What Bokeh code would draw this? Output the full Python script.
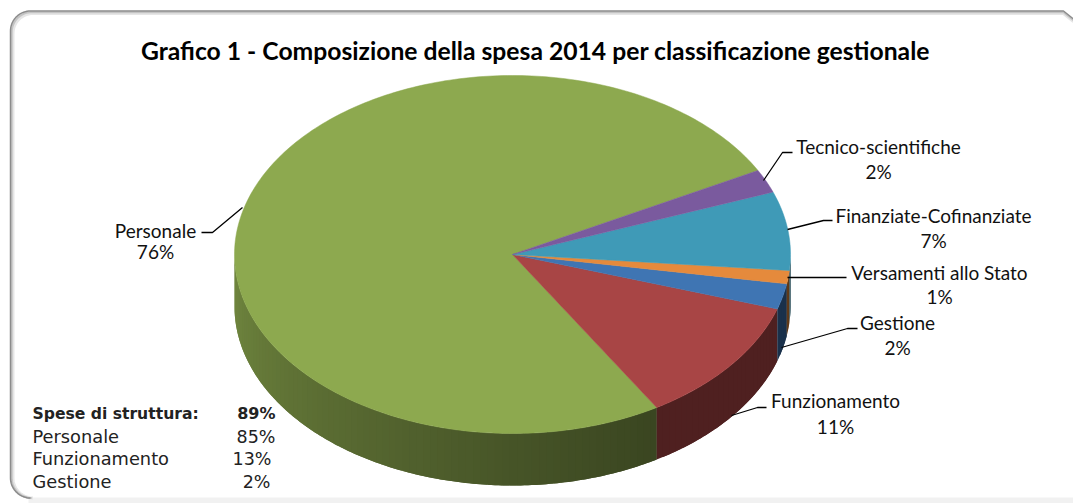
import math
from bokeh.plotting import figure
from bokeh.models import Range1d
from bokeh.core.properties import value
from bokeh.embed import file_html
from bokeh.resources import INLINE

TITLE = "Grafico 1 - Composizione della spesa 2014 per classificazione gestionale"
categories = ["Personale", "Funzionamento", "Gestione", "Versamenti allo Stato",
              "Finanziate-Cofinanziate", "Tecnico-scientifiche"]
shares = [75.9, 11.4, 2.3, 1.2, 7.1, 2.1]
share_labels = ["76%", "11%", "2%", "1%", "7%", "2%"]
colors = ["#8DA94F", "#A84545", "#3F75B3", "#E58A3C", "#3F9AB7", "#7A5A9E"]

side_names = ["Spese di struttura:", "Personale", "Funzionamento", "Gestione"]
side_values = ["89%", "85%", "13%", "2%"]

W, H = 1073, 503
CX, CY, RX, RY, DEPTH = 512, 254, 278, 179, 52
START = 28.0

p = figure(width=W, height=H, x_range=Range1d(0, W), y_range=Range1d(H, 0),
           output_backend="svg", toolbar_location=None, min_border=0,
           background_fill_color="white", border_fill_color="white")
p.axis.visible = False
p.grid.visible = False
p.outline_line_color = None


def pt(t, dy=0):
    r = math.radians(t)
    return CX + RX * math.cos(r), CY - RY * math.sin(r) + dy


def mix(hex_color, f):
    c = [int(hex_color[i:i + 2], 16) for i in (1, 3, 5)]
    return "#%02x%02x%02x" % tuple(int(round(v * f)) for v in c)


def shade(t, name):
    if name == "Personale":
        if t < 270:
            return 0.80 - (t - 180) / 90 * 0.30
        return 0.50 - (t - 270) / 31 * 0.09
    return 0.47 if name == "Funzionamento" else 0.42


# frame: soft bottom band, then the grey outline with its inner shadow
p.quad(left=[28], right=[W], top=[497], bottom=[H], fill_color="#f1f1f1", line_color=None)


def frame_path(offset=0.0):
    xs, ys = [], []
    L, T, Rr, B, R0 = 10 + offset, 10.5 + offset, 1073, 497.5, 20
    for a in range(0, 91, 5):
        r = math.radians(a)
        xs.append(L + R0 - R0 * math.sin(r))
        ys.append(B - R0 + R0 * math.cos(r))
    for a in range(0, 91, 5):
        r = math.radians(a)
        xs.append(L + R0 - R0 * math.cos(r))
        ys.append(T + R0 - R0 * math.sin(r))
    xs.append(Rr - 10)
    ys.append(T)
    xs.append(Rr)
    ys.append(T + 8)
    return xs, ys


for off, w, col in [(2.5, 3, "#e6e6e6"), (1.2, 2, "#c4c4c4"), (0, 1.5, "#8c8c8c")]:
    xs, ys = frame_path(off)
    p.line(xs, ys, line_color=col, line_width=w)

# slice angles
total = sum(shares)
angles = []
a = START
for s in shares:
    angles.append((a, a + s / total * 360))
    a += s / total * 360

# side wall: strips overlap each other so no seams show
for (a0, a1), name, col in zip(angles, categories, colors):
    lo, hi = max(a0, 180), min(a1, 360)
    if hi <= lo:
        continue
    n = max(1, int((hi - lo) / 1.5))
    for i in range(n):
        t0 = lo + (hi - lo) * i / n
        t1 = lo + (hi - lo) * (i + 1) / n
        arc = [t0 + (min(t1 + 1.5, hi) - t0) * k / 4 for k in range(5)]
        top = [pt(t) for t in arc]
        c = mix(col, shade((t0 + t1) / 2, name))
        p.patch([q[0] for q in top] + [q[0] for q in reversed(top)],
                [q[1] for q in top] + [q[1] + DEPTH for q in reversed(top)],
                fill_color=c, line_color=None)

# top face
for (a0, a1), col in zip(angles, colors):
    n = max(2, int((a1 - a0) / 1.0))
    xs, ys = [CX], [CY]
    for i in range(n + 1):
        x, y = pt(a0 + (a1 - a0) * i / n)
        xs.append(x)
        ys.append(y)
    p.patch(xs, ys, fill_color=col, line_color=col, line_width=0.5)

# leader lines
leaders = {
    "Personale": ([242, 212, 201], [207, 232, 232]),
    "Funzionamento": ([731, 757, 766], [415, 407, 407]),
    "Gestione": ([781, 847, 857], [347, 328, 328]),
    "Versamenti allo Stato": ([787, 846], [277, 277]),
    "Finanziate-Cofinanziate": ([787, 823, 832], [229, 220, 220]),
    "Tecnico-scientifiche": ([763, 782, 792], [180, 152, 152]),
}
label_pos = {
    "Personale": (155, 230, 251),
    "Funzionamento": (835, 400, 426),
    "Gestione": (897, 322, 347),
    "Versamenti allo Stato": (939, 272, 296),
    "Finanziate-Cofinanziate": (933, 215, 240),
    "Tecnico-scientifiche": (878, 146, 171),
}
FONT = value("Lato")
for name, lab in zip(categories, share_labels):
    xs, ys = leaders[name]
    p.line(xs, ys, line_color="black", line_width=1.3)
    x, y1, y2 = label_pos[name]
    p.text([x, x], [y1, y2], text=[name, lab], text_font=FONT, text_font_size="19px",
           text_align="center", text_baseline="middle", text_color="#111111")

p.text([535], [50], text=[TITLE], text_font=FONT, text_font_size="24.7px",
       text_font_style="bold", text_align="center", text_baseline="middle", text_color="black")

# small table
row_y = [413, 436, 458, 481]
val_right = [275, 275, 271, 270]
LF = value("DejaVu Sans")
for i, (n, v) in enumerate(zip(side_names, side_values)):
    st = "bold" if i == 0 else "normal"
    p.text([32], [row_y[i]], text=[n], text_font=LF, text_font_size="15.6px" if i == 0 else "17.8px",
           text_font_style=st, text_align="left", text_baseline="middle", text_color="#222222")
    p.text([val_right[i]], [row_y[i]], text=[v], text_font=LF, text_font_size="16px" if i == 0 else "17.5px",
           text_font_style=st, text_align="right", text_baseline="middle", text_color="#222222")

open("out.html", "w").write(file_html(p, INLINE))
